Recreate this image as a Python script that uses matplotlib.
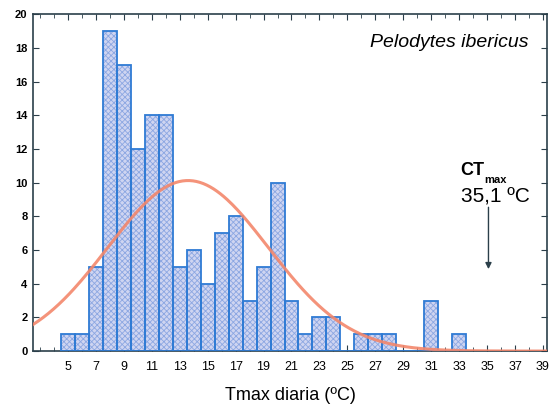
import numpy as np
import matplotlib
matplotlib.use("Agg")
import matplotlib.pyplot as plt
from matplotlib.ticker import MultipleLocator, FixedLocator

plt.rcParams['font.family'] = ['Liberation Sans', 'DejaVu Sans']
plt.rcParams['hatch.linewidth'] = 0.6

# histogram of daily max temperature (bin centres, counts)
temp = [5, 6, 7, 8, 9, 10, 11, 12, 13, 14, 15, 16, 17, 18, 19, 20, 21,
        22, 23, 24, 25, 26, 27, 28, 29, 30, 31, 32, 33]
counts = [1, 1, 5, 19, 17, 12, 14, 14, 5, 6, 4, 7, 8, 3, 5, 10, 3,
          1, 2, 2, 0, 1, 1, 1, 0, 0, 3, 0, 1]
xtick_labels = list(range(5, 40, 2))
ct_max = 35.1

temp = np.array(temp)
counts = np.array(counts)

# expected normal curve fitted to the histogram
n = counts.sum()
mean = (temp * counts).sum() / n
sd = np.sqrt((counts * (temp - mean) ** 2).sum() / (n - 1))
xs = np.linspace(2.5, 39.3, 300)
ys = n * 1.0 / (sd * np.sqrt(2 * np.pi)) * np.exp(-0.5 * ((xs - mean) / sd) ** 2)

fig = plt.figure(figsize=(5.51, 4.04), dpi=100)
ax = fig.add_axes([0.060, 0.131, 0.933, 0.834])

ax.bar(temp, counts, width=1.0, color='#cfd5f1', edgecolor='#8ca7e2',
       hatch='xxxxxx', linewidth=0, zorder=2)
ax.bar(temp, counts, width=1.0, fill=False, edgecolor='#2f7bd4',
       linewidth=1.3, zorder=3)
ax.plot(xs, ys, color='#f3876c', lw=2.2, alpha=0.9, zorder=4)

ax.set_xlim(2.5, 39.3)
ax.set_ylim(0, 20)
ax.xaxis.set_major_locator(FixedLocator(xtick_labels))
ax.xaxis.set_minor_locator(MultipleLocator(1))
ax.yaxis.set_major_locator(MultipleLocator(2))
ax.tick_params(axis='both', which='both', direction='in', top=True, right=True,
               color='#2b3f4a')
ax.tick_params(axis='x', which='major', length=4, labelsize=9, pad=7)
ax.tick_params(axis='x', which='minor', length=3)
ax.tick_params(axis='y', length=4, labelsize=8, pad=4)
for lab in ax.get_yticklabels():
    lab.set_fontweight('bold')
for sp in ax.spines.values():
    sp.set_color('#2b3f4a')
    sp.set_linewidth(1.2)

ax.set_xlabel('Tmax diaria (ºC)', fontsize=13, labelpad=10)

ax.text(0.963, 0.915, 'Pelodytes ibericus', transform=ax.transAxes,
        ha='right', va='center', fontsize=14, style='italic')

ax.text(33.1, 10.45, 'CT', fontsize=13, fontweight='bold', ha='left', va='baseline')
ax.text(34.8, 10.0, 'max', fontsize=8, fontweight='bold', ha='left', va='baseline')
ax.text(33.1, 8.8, '35,1 ºC', fontsize=15, ha='left', va='baseline')
ax.annotate('', xy=(ct_max, 4.7), xytext=(ct_max, 8.7),
            arrowprops=dict(arrowstyle='-|>', color='#2b3f4a', lw=1.0,
                            mutation_scale=9))

fig.savefig('out.png', dpi=100)
